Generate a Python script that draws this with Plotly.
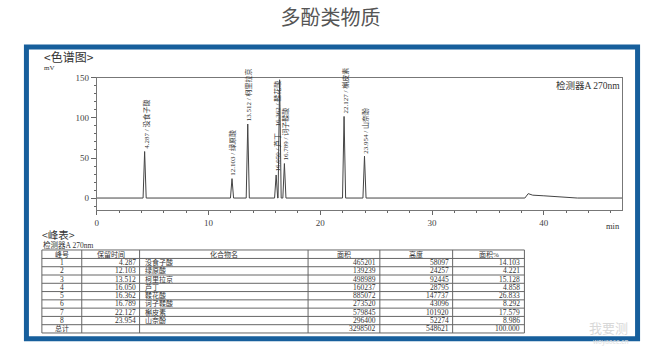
import plotly.graph_objects as go

W, H = 661, 352

# ---- data ----
peak_no = [1, 2, 3, 4, 5, 6, 7, 8]
ret_time = [4.287, 12.103, 13.512, 16.050, 16.362, 16.789, 22.127, 23.954]
compound = ["没食子酸", "绿原酸", "柯里拉京", "芦丁", "鞣花酸", "诃子鞣酸", "槲皮素", "山奈酚"]
area = [465201, 139239, 498989, 160237, 885072, 273520, 579845, 296400]
height_uv = [58097, 24257, 92445, 28795, 147737, 43096, 101920, 52274]
area_pct = [14.103, 4.221, 15.128, 4.858, 26.833, 8.292, 17.579, 8.986]
total_area = 3298502
total_height = 548621
total_pct = 100.000

# small baseline features of the trace (min, mV)
extra_t = [31.9, 32.3, 32.7, 38.3, 38.6, 39.0, 40.0, 41.0, 42.0, 43.0]
extra_v = [0.0, 0.9, 0.0, 0.0, 5.5, 3.6, 2.8, 2.0, 0.8, 0.0]

x_ticks = [0, 10, 20, 30, 40]
y_ticks = [0, 50, 100, 150]

header_cols = ["峰号", "保留时间", "化合物名", "面积", "高度", "面积%"]

# ---- helpers ----
def px_x(p):
    return p / W

def px_y(p):
    return 1 - p / H

serif = "Liberation Serif, Noto Sans CJK SC"
cjk = "Noto Sans CJK SC, Liberation Serif"
txt_col = "#333333"
blue = "#175f9c"
grid_col = "#666666"

height_mv = [h / 1000 for h in height_uv]

# chromatogram trace
hw = 0.14
tx, ty = [0.0], [0.0]
for rt, h in zip(ret_time, height_mv):
    tx += [rt - hw, rt, rt + hw]
    ty += [0.0, h, 0.0]
tx += extra_t
ty += extra_v
tx.append(47.0)
ty.append(0.0)

fig = go.Figure()
fig.add_trace(go.Scatter(x=tx, y=ty, mode="lines",
                         line=dict(color="#444444", width=1),
                         hoverinfo="skip", showlegend=False))

annotations = []
for i, (rt, h, name) in enumerate(zip(ret_time, height_mv, compound)):
    lx, ly = rt, h
    if i == 4:  # label moved beside peak 4 label (apex at top of axis)
        lx, ly = ret_time[3], height_mv[3] + 57
    annotations.append(dict(
        x=lx, y=ly, xref="x", yref="y", text=f"{rt:.3f} / {name}",
        textangle=-90, xanchor="center", yanchor="bottom", yshift=2, xshift=1,
        showarrow=False, borderpad=0,
        font=dict(family=serif, size=7, color=txt_col)))

annotations += [
    dict(x=px_x(40), y=px_y(52), xref="paper", yref="paper", text="<色谱图>",
         xanchor="left", yanchor="middle", showarrow=False,
         font=dict(family=cjk, size=12, color=txt_col)),
    dict(x=px_x(40), y=px_y(64), xref="paper", yref="paper", text="mV",
         xanchor="left", yanchor="middle", showarrow=False,
         font=dict(family=serif, size=7, color=txt_col)),
    dict(x=1, y=1, xref="x domain", yref="y domain", text="检测器A 270nm",
         xanchor="right", yanchor="top", showarrow=False,
         font=dict(family=serif, size=9.5, color=txt_col)),
    dict(x=px_x(622), y=px_y(224), xref="paper", yref="paper", text="min",
         xanchor="right", yanchor="middle", showarrow=False,
         font=dict(family=serif, size=8.5, color=txt_col)),
    dict(x=px_x(39), y=px_y(233), xref="paper", yref="paper", text="<峰表>",
         xanchor="left", yanchor="middle", showarrow=False, borderpad=0,
         font=dict(family=cjk, size=10.5, color=txt_col)),
    dict(x=px_x(40), y=px_y(243.5), xref="paper", yref="paper", text="检测器A 270nm",
         xanchor="left", yanchor="middle", showarrow=False, borderpad=0,
         font=dict(family=serif, size=7.5, color=txt_col)),
    dict(x=px_x(608), y=px_y(327), xref="paper", yref="paper", text="我要测",
         xanchor="center", yanchor="middle", showarrow=False, borderpad=0,
         font=dict(family=cjk, size=13, color="#d8d8d8")),
    dict(x=px_x(610), y=px_y(341), xref="paper", yref="paper", text="woyaoce.cn",
         xanchor="center", yanchor="middle", showarrow=False, borderpad=0,
         font=dict(family="Noto Sans", size=6.5, color="#e0e0e0")),
]

# ---- table (drawn with shapes + text) ----
col_w = [40, 58, 169, 72, 73, 72]
col_align = ["center", "right", "left", "right", "right", "right"]
tbl_left, tbl_top, head_h, row_h = 40, 248.5, 8.6, 8.4

cells = [
    [str(n) for n in peak_no] + ["总计"],
    [f"{t:.3f}" for t in ret_time] + [""],
    compound + [""],
    [str(a) for a in area] + [str(total_area)],
    [str(h) for h in height_uv] + [str(total_height)],
    [f"{p:.3f}" for p in area_pct] + [f"{total_pct:.3f}"],
]
n_rows = len(cells[0])
col_edges = [tbl_left]
for w in col_w:
    col_edges.append(col_edges[-1] + w)
row_edges = [tbl_top, tbl_top + head_h]
for _ in range(n_rows):
    row_edges.append(row_edges[-1] + row_h)

shapes = []
for yy in row_edges:
    shapes.append(dict(type="line", xref="paper", yref="paper",
                       x0=px_x(col_edges[0]), x1=px_x(col_edges[-1]),
                       y0=px_y(yy), y1=px_y(yy), line=dict(color=grid_col, width=1)))
for xx in col_edges:
    shapes.append(dict(type="line", xref="paper", yref="paper",
                       x0=px_x(xx), x1=px_x(xx), y0=px_y(row_edges[0]),
                       y1=px_y(row_edges[-1]), line=dict(color=grid_col, width=1)))

def cell_text(text, c, ymid, align, size):
    l, r = col_edges[c], col_edges[c + 1]
    if align == "center":
        x, xa = (l + r) / 2, "center"
    elif align == "right":
        x, xa = r - 3, "right"
    else:
        x, xa = l + 4, "left"
    return dict(x=px_x(x), y=px_y(ymid), xref="paper", yref="paper", text=text,
                xanchor=xa, yanchor="middle", showarrow=False, borderpad=0,
                font=dict(family=serif, size=size, color=txt_col))

for c, hdr in enumerate(header_cols):
    annotations.append(cell_text(hdr, c, (row_edges[0] + row_edges[1]) / 2,
                                 "center", 7))
for c in range(len(cells)):
    for r in range(n_rows):
        t = cells[c][r]
        if not t:
            continue
        ymid = (row_edges[r + 1] + row_edges[r + 2]) / 2
        is_cjk = (c == 2 or t == "总计")
        annotations.append(cell_text(t, c, ymid, col_align[c],
                                     7 if is_cjk else 7.5))

shapes.append(dict(type="rect", xref="paper", yref="paper",
                   x0=px_x(24.5), x1=px_x(637.5), y0=px_y(338.5), y1=px_y(42.5),
                   line=dict(color=blue, width=5), fillcolor="rgba(0,0,0,0)"))

fig.update_layout(
    width=W, height=H, margin=dict(l=0, r=0, t=0, b=0),
    paper_bgcolor="white", plot_bgcolor="white", showlegend=False,
    title=dict(text="多酚类物质", x=0.5, y=px_y(18), xanchor="center", yanchor="middle",
               font=dict(family="Noto Sans CJK SC", size=20, color="#555555")),
    xaxis=dict(domain=[px_x(95), px_x(622)], range=[0, 47], tickvals=x_ticks,
               ticks="outside", ticklen=4, tickcolor="#666", showline=True,
               linecolor="#777", linewidth=1, mirror=True, showgrid=False,
               zeroline=False, tickfont=dict(family=serif, size=9, color="#444"),
               minor=dict(dtick=2, ticks="outside", ticklen=2, tickcolor="#666")),
    yaxis=dict(domain=[px_y(208), px_y(74)], range=[-15, 150], tickvals=y_ticks,
               ticks="outside", ticklen=5, tickcolor="#666", showline=True,
               linecolor="#777", linewidth=1, mirror=True, showgrid=False,
               zeroline=False, tickfont=dict(family=serif, size=9, color="#444"),
               minor=dict(dtick=10, ticks="outside", ticklen=2, tickcolor="#666")),
    annotations=annotations,
    shapes=shapes,
)

fig.write_html("out.html")
